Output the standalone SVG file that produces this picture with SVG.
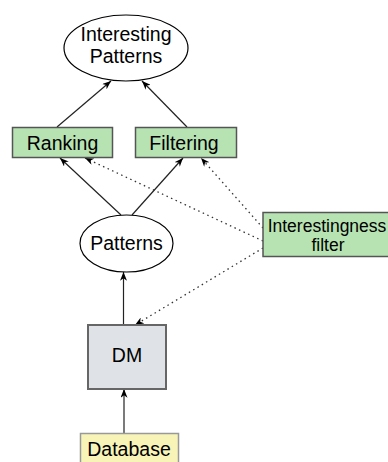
<svg xmlns="http://www.w3.org/2000/svg" width="388" height="462" viewBox="0 0 388 462">
<style>
  text { font-family: "Liberation Sans", Arial, sans-serif; font-size: 19.5px; fill: #000; text-anchor: middle; }
  .ell { fill: #fff; stroke: #000; stroke-width: 1.2; }
  .green { fill: #b7e3b3; stroke: #555; stroke-width: 1.5; }
  .gray { fill: #dfe2e6; stroke: #666; stroke-width: 2; }
  .yellow { fill: #f8f4b8; stroke: #999; stroke-width: 1.5; }
  .solid { stroke: #222; stroke-width: 1.2; fill: none; marker-end: url(#arr); }
  .dot { stroke: #333; stroke-width: 1.3; fill: none; stroke-dasharray: 1.5 3.5; marker-end: url(#arr); }
  .small { font-size: 17.5px; }
</style>
<defs>
  <marker id="arr" viewBox="0 0 10 8" refX="10" refY="4" markerWidth="9" markerHeight="7" markerUnits="userSpaceOnUse" orient="auto">
    <path d="M0,0 L10,4 L0,8 L3,4 z" fill="#000"/>
  </marker>
</defs>
<rect width="388" height="462" fill="#fff"/>
<g id="connectors">
  <line class="solid" x1="57" y1="127" x2="111" y2="81"/>
  <line class="solid" x1="187" y1="127" x2="142" y2="81"/>
  <line class="solid" x1="121" y1="215" x2="60" y2="158"/>
  <line class="solid" x1="132" y1="215" x2="183" y2="158"/>
  <line class="solid" x1="123.5" y1="325" x2="123.5" y2="272"/>
  <line class="solid" x1="124" y1="433" x2="124" y2="389"/>
  <line class="dot" x1="263" y1="241" x2="85" y2="158"/>
  <line class="dot" x1="263" y1="228" x2="201" y2="158"/>
  <line class="dot" x1="263" y1="248" x2="135" y2="325"/>
</g>
<g id="interesting-patterns">
  <ellipse class="ell" cx="126" cy="48" rx="62" ry="33"/>
  <text x="126" y="41">Interesting</text>
  <text x="126" y="63">Patterns</text>
</g>
<g id="ranking">
  <rect class="green" x="12.5" y="127.5" width="100" height="30"/>
  <text x="62.5" y="150">Ranking</text>
</g>
<g id="filtering">
  <rect class="green" x="135.5" y="127.5" width="101" height="30"/>
  <text x="184" y="150">Filtering</text>
</g>
<g id="interestingness-filter">
  <rect class="green" x="263" y="212.5" width="132" height="44"/>
  <text class="small" x="327" y="232">Interestingness</text>
  <text class="small" x="328" y="251">filter</text>
</g>
<g id="patterns">
  <ellipse class="ell" cx="126.5" cy="243.5" rx="46.5" ry="28.5"/>
  <text x="126.5" y="249.5">Patterns</text>
</g>
<g id="dm">
  <rect class="gray" x="88" y="325" width="78" height="64"/>
  <text x="127" y="362">DM</text>
</g>
<g id="database">
  <rect class="yellow" x="80.5" y="433.5" width="98" height="40"/>
  <text x="129" y="456">Database</text>
</g>
</svg>
